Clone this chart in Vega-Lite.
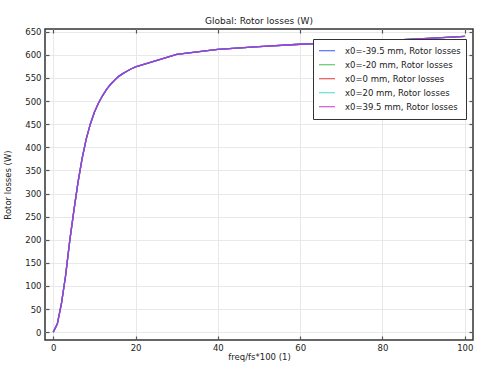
{
  "$schema": "https://vega.github.io/schema/vega-lite/v6.json",
  "width": 428,
  "height": 311,
  "autosize": "none",
  "padding": {"left": 45, "top": 29, "right": 12, "bottom": 26},
  "background": "white",
  "config": {
    "font": "DejaVu Sans",
    "view": {"stroke": "#333333", "strokeWidth": 1.5},
    "axis": {
      "labelFont": "DejaVu Sans", "labelFontSize": 8.5, "labelColor": "#222",
      "titleFont": "DejaVu Sans", "titleFontSize": 8.5, "titleFontWeight": "normal", "titleColor": "#222",
      "gridColor": "#e8e8e8", "gridWidth": 1,
      "domain": false, "tickColor": "#555", "tickWidth": 1.2
    }
  },
  "title": {"text": "Global: Rotor losses (W)", "fontSize": 9, "fontWeight": "normal", "font": "DejaVu Sans", "color": "#222", "offset": 2},
  "data": {"values": [
    {"s":"x0=-20 mm, Rotor losses","x":0,"y":0},{"s":"x0=-20 mm, Rotor losses","x":1,"y":18},{"s":"x0=-20 mm, Rotor losses","x":2,"y":62},{"s":"x0=-20 mm, Rotor losses","x":3,"y":122},{"s":"x0=-20 mm, Rotor losses","x":4,"y":197},{"s":"x0=-20 mm, Rotor losses","x":5,"y":262},{"s":"x0=-20 mm, Rotor losses","x":6,"y":323},{"s":"x0=-20 mm, Rotor losses","x":7,"y":375},{"s":"x0=-20 mm, Rotor losses","x":8,"y":417},{"s":"x0=-20 mm, Rotor losses","x":9,"y":450},{"s":"x0=-20 mm, Rotor losses","x":10,"y":476},{"s":"x0=-20 mm, Rotor losses","x":11,"y":496},{"s":"x0=-20 mm, Rotor losses","x":12,"y":512},{"s":"x0=-20 mm, Rotor losses","x":13,"y":526},{"s":"x0=-20 mm, Rotor losses","x":14,"y":537},{"s":"x0=-20 mm, Rotor losses","x":15,"y":546},{"s":"x0=-20 mm, Rotor losses","x":16,"y":554},{"s":"x0=-20 mm, Rotor losses","x":17,"y":560},{"s":"x0=-20 mm, Rotor losses","x":18,"y":565},{"s":"x0=-20 mm, Rotor losses","x":19,"y":570},{"s":"x0=-20 mm, Rotor losses","x":20,"y":574},{"s":"x0=-20 mm, Rotor losses","x":30,"y":601},{"s":"x0=-20 mm, Rotor losses","x":40,"y":612},{"s":"x0=-20 mm, Rotor losses","x":50,"y":618},{"s":"x0=-20 mm, Rotor losses","x":60,"y":623},{"s":"x0=-20 mm, Rotor losses","x":70,"y":627},{"s":"x0=-20 mm, Rotor losses","x":80,"y":631},{"s":"x0=-20 mm, Rotor losses","x":90,"y":635},{"s":"x0=-20 mm, Rotor losses","x":100,"y":640},
    {"s":"x0=0 mm, Rotor losses","x":0,"y":0},{"s":"x0=0 mm, Rotor losses","x":1,"y":18},{"s":"x0=0 mm, Rotor losses","x":2,"y":62},{"s":"x0=0 mm, Rotor losses","x":3,"y":122},{"s":"x0=0 mm, Rotor losses","x":4,"y":197},{"s":"x0=0 mm, Rotor losses","x":5,"y":262},{"s":"x0=0 mm, Rotor losses","x":6,"y":323},{"s":"x0=0 mm, Rotor losses","x":7,"y":375},{"s":"x0=0 mm, Rotor losses","x":8,"y":417},{"s":"x0=0 mm, Rotor losses","x":9,"y":450},{"s":"x0=0 mm, Rotor losses","x":10,"y":476},{"s":"x0=0 mm, Rotor losses","x":11,"y":496},{"s":"x0=0 mm, Rotor losses","x":12,"y":512},{"s":"x0=0 mm, Rotor losses","x":13,"y":526},{"s":"x0=0 mm, Rotor losses","x":14,"y":537},{"s":"x0=0 mm, Rotor losses","x":15,"y":546},{"s":"x0=0 mm, Rotor losses","x":16,"y":554},{"s":"x0=0 mm, Rotor losses","x":17,"y":560},{"s":"x0=0 mm, Rotor losses","x":18,"y":565},{"s":"x0=0 mm, Rotor losses","x":19,"y":570},{"s":"x0=0 mm, Rotor losses","x":20,"y":574},{"s":"x0=0 mm, Rotor losses","x":30,"y":601},{"s":"x0=0 mm, Rotor losses","x":40,"y":612},{"s":"x0=0 mm, Rotor losses","x":50,"y":618},{"s":"x0=0 mm, Rotor losses","x":60,"y":623},{"s":"x0=0 mm, Rotor losses","x":70,"y":627},{"s":"x0=0 mm, Rotor losses","x":80,"y":631},{"s":"x0=0 mm, Rotor losses","x":90,"y":635},{"s":"x0=0 mm, Rotor losses","x":100,"y":640},
    {"s":"x0=20 mm, Rotor losses","x":0,"y":0},{"s":"x0=20 mm, Rotor losses","x":1,"y":18},{"s":"x0=20 mm, Rotor losses","x":2,"y":62},{"s":"x0=20 mm, Rotor losses","x":3,"y":122},{"s":"x0=20 mm, Rotor losses","x":4,"y":197},{"s":"x0=20 mm, Rotor losses","x":5,"y":262},{"s":"x0=20 mm, Rotor losses","x":6,"y":323},{"s":"x0=20 mm, Rotor losses","x":7,"y":375},{"s":"x0=20 mm, Rotor losses","x":8,"y":417},{"s":"x0=20 mm, Rotor losses","x":9,"y":450},{"s":"x0=20 mm, Rotor losses","x":10,"y":476},{"s":"x0=20 mm, Rotor losses","x":11,"y":496},{"s":"x0=20 mm, Rotor losses","x":12,"y":512},{"s":"x0=20 mm, Rotor losses","x":13,"y":526},{"s":"x0=20 mm, Rotor losses","x":14,"y":537},{"s":"x0=20 mm, Rotor losses","x":15,"y":546},{"s":"x0=20 mm, Rotor losses","x":16,"y":554},{"s":"x0=20 mm, Rotor losses","x":17,"y":560},{"s":"x0=20 mm, Rotor losses","x":18,"y":565},{"s":"x0=20 mm, Rotor losses","x":19,"y":570},{"s":"x0=20 mm, Rotor losses","x":20,"y":574},{"s":"x0=20 mm, Rotor losses","x":30,"y":601},{"s":"x0=20 mm, Rotor losses","x":40,"y":612},{"s":"x0=20 mm, Rotor losses","x":50,"y":618},{"s":"x0=20 mm, Rotor losses","x":60,"y":623},{"s":"x0=20 mm, Rotor losses","x":70,"y":627},{"s":"x0=20 mm, Rotor losses","x":80,"y":631},{"s":"x0=20 mm, Rotor losses","x":90,"y":635},{"s":"x0=20 mm, Rotor losses","x":100,"y":640},
    {"s":"x0=-39.5 mm, Rotor losses","x":0,"y":0},{"s":"x0=-39.5 mm, Rotor losses","x":1,"y":18},{"s":"x0=-39.5 mm, Rotor losses","x":2,"y":62},{"s":"x0=-39.5 mm, Rotor losses","x":3,"y":122},{"s":"x0=-39.5 mm, Rotor losses","x":4,"y":197},{"s":"x0=-39.5 mm, Rotor losses","x":5,"y":262},{"s":"x0=-39.5 mm, Rotor losses","x":6,"y":323},{"s":"x0=-39.5 mm, Rotor losses","x":7,"y":375},{"s":"x0=-39.5 mm, Rotor losses","x":8,"y":417},{"s":"x0=-39.5 mm, Rotor losses","x":9,"y":450},{"s":"x0=-39.5 mm, Rotor losses","x":10,"y":476},{"s":"x0=-39.5 mm, Rotor losses","x":11,"y":496},{"s":"x0=-39.5 mm, Rotor losses","x":12,"y":512},{"s":"x0=-39.5 mm, Rotor losses","x":13,"y":526},{"s":"x0=-39.5 mm, Rotor losses","x":14,"y":537},{"s":"x0=-39.5 mm, Rotor losses","x":15,"y":546},{"s":"x0=-39.5 mm, Rotor losses","x":16,"y":554},{"s":"x0=-39.5 mm, Rotor losses","x":17,"y":560},{"s":"x0=-39.5 mm, Rotor losses","x":18,"y":565},{"s":"x0=-39.5 mm, Rotor losses","x":19,"y":570},{"s":"x0=-39.5 mm, Rotor losses","x":20,"y":574},{"s":"x0=-39.5 mm, Rotor losses","x":30,"y":601},{"s":"x0=-39.5 mm, Rotor losses","x":40,"y":612},{"s":"x0=-39.5 mm, Rotor losses","x":50,"y":618},{"s":"x0=-39.5 mm, Rotor losses","x":60,"y":623},{"s":"x0=-39.5 mm, Rotor losses","x":70,"y":627},{"s":"x0=-39.5 mm, Rotor losses","x":80,"y":631},{"s":"x0=-39.5 mm, Rotor losses","x":90,"y":635},{"s":"x0=-39.5 mm, Rotor losses","x":100,"y":640},
    {"s":"x0=39.5 mm, Rotor losses","x":0,"y":0},{"s":"x0=39.5 mm, Rotor losses","x":1,"y":18},{"s":"x0=39.5 mm, Rotor losses","x":2,"y":62},{"s":"x0=39.5 mm, Rotor losses","x":3,"y":122},{"s":"x0=39.5 mm, Rotor losses","x":4,"y":197},{"s":"x0=39.5 mm, Rotor losses","x":5,"y":262},{"s":"x0=39.5 mm, Rotor losses","x":6,"y":323},{"s":"x0=39.5 mm, Rotor losses","x":7,"y":375},{"s":"x0=39.5 mm, Rotor losses","x":8,"y":417},{"s":"x0=39.5 mm, Rotor losses","x":9,"y":450},{"s":"x0=39.5 mm, Rotor losses","x":10,"y":476},{"s":"x0=39.5 mm, Rotor losses","x":11,"y":496},{"s":"x0=39.5 mm, Rotor losses","x":12,"y":512},{"s":"x0=39.5 mm, Rotor losses","x":13,"y":526},{"s":"x0=39.5 mm, Rotor losses","x":14,"y":537},{"s":"x0=39.5 mm, Rotor losses","x":15,"y":546},{"s":"x0=39.5 mm, Rotor losses","x":16,"y":554},{"s":"x0=39.5 mm, Rotor losses","x":17,"y":560},{"s":"x0=39.5 mm, Rotor losses","x":18,"y":565},{"s":"x0=39.5 mm, Rotor losses","x":19,"y":570},{"s":"x0=39.5 mm, Rotor losses","x":20,"y":574},{"s":"x0=39.5 mm, Rotor losses","x":30,"y":601},{"s":"x0=39.5 mm, Rotor losses","x":40,"y":612},{"s":"x0=39.5 mm, Rotor losses","x":50,"y":618},{"s":"x0=39.5 mm, Rotor losses","x":60,"y":623},{"s":"x0=39.5 mm, Rotor losses","x":70,"y":627},{"s":"x0=39.5 mm, Rotor losses","x":80,"y":631},{"s":"x0=39.5 mm, Rotor losses","x":90,"y":635},{"s":"x0=39.5 mm, Rotor losses","x":100,"y":640}
  ]},
  "layer": [
    {
      "mark": {"type": "line", "strokeWidth": 1.3, "clip": true},
      "encoding": {
        "x": {"field": "x", "type": "quantitative", "scale": {"domain": [-2, 102], "nice": false, "zero": false},
          "axis": {"values": [0, 20, 40, 60, 80, 100], "title": "freq/fs*100 (1)", "tickSize": -4, "labelPadding": 7, "titlePadding": 1, "labelFlush": false}},
        "y": {"field": "y", "type": "quantitative", "scale": {"domain": [-17, 656], "nice": false, "zero": false},
          "axis": {"values": [0,50,100,150,200,250,300,350,400,450,500,550,600,650], "title": "Rotor losses (W)", "tickSize": -4, "labelPadding": 8, "titlePadding": 12, "labelFlush": false}},
        "color": {"field": "s", "type": "nominal",
          "scale": {"domain": ["x0=-39.5 mm, Rotor losses","x0=-20 mm, Rotor losses","x0=0 mm, Rotor losses","x0=20 mm, Rotor losses","x0=39.5 mm, Rotor losses"],
                    "range": ["#3355ff", "#44c044", "#e03535", "#44d8d8", "#cc33cc"]},
          "legend": {"title": null, "orient": "none", "legendX": 268, "legendY": 10, "symbolType": "stroke", "symbolSize": 256, "symbolStrokeWidth": 1.2, "symbolOpacity": 1,
            "labelFontSize": 8.5, "labelFont": "DejaVu Sans", "labelColor": "#222", "labelOffset": 9, "rowPadding": 0, "clipHeight": 13.5, "padding": 5,
            "strokeColor": "#333333", "fillColor": "white", "labelLimit": 300}},
        "opacity": {"condition": {"test": "datum.s === 'x0=39.5 mm, Rotor losses'", "value": 0.75}, "value": 1}
      }
    },
    {
      "mark": {"type": "point", "opacity": 0},
      "encoding": {
        "x": {"field": "x", "type": "quantitative", "axis": {"orient": "top", "values": [0,20,40,60,80,100], "labels": false, "title": null, "grid": false, "tickSize": -4}},
        "y": {"field": "y", "type": "quantitative", "axis": {"orient": "right", "values": [0,50,100,150,200,250,300,350,400,450,500,550,600,650], "labels": false, "title": null, "grid": false, "tickSize": -4}}
      }
    }
  ],
  "resolve": {"axis": {"x": "independent", "y": "independent"}}
}
